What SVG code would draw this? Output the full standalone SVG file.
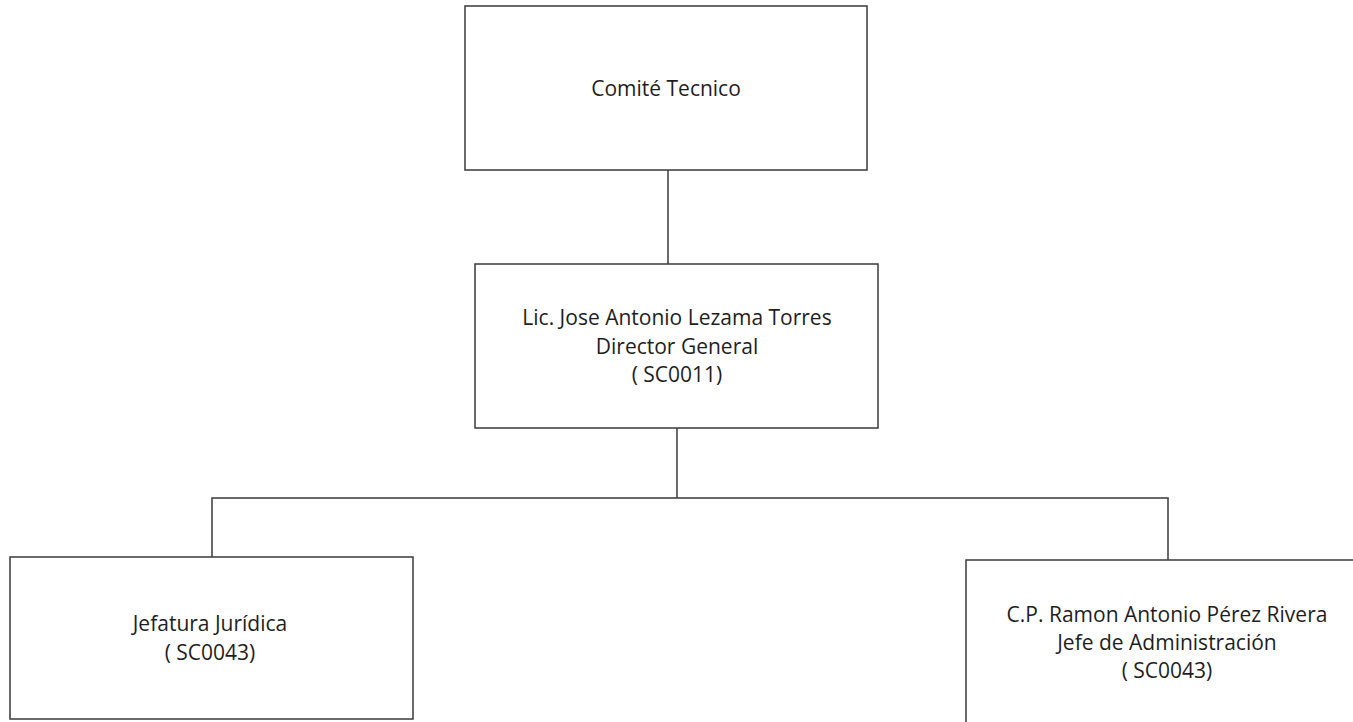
<svg xmlns="http://www.w3.org/2000/svg" width="1353" height="722" viewBox="0 0 1353 722">
<style>
.box{fill:#ffffff;stroke:#3a3a3a;stroke-width:1.5}
.conn{fill:none;stroke:#3a3a3a;stroke-width:1.5}
.t{font-family:"Open Sans","Noto Sans","Liberation Sans",sans-serif;font-size:21px;fill:#1e1e1e;text-anchor:middle}
</style>
<rect width="1353" height="722" fill="#ffffff"/>
<g id="connectors">
<path class="conn" d="M668 170 V264"/>
<path class="conn" d="M677 428 V498"/>
<path class="conn" d="M212 557 V498 H1168 V560"/>
</g>
<g id="comite">
<rect class="box" x="465" y="6" width="402" height="164"/>
<text class="t" x="666" y="96">Comité Tecnico</text>
</g>
<g id="director">
<rect class="box" x="475" y="264" width="403" height="164"/>
<text class="t" x="677" y="325">Lic. Jose Antonio Lezama Torres</text>
<text class="t" x="677" y="354">Director General</text>
<text class="t" x="677" y="382">( SC0011)</text>
</g>
<g id="juridica">
<rect class="box" x="10" y="557" width="403" height="162"/>
<text class="t" x="210" y="631">Jefatura Jurídica</text>
<text class="t" x="210" y="660">( SC0043)</text>
</g>
<g id="administracion">
<rect class="box" x="966" y="560" width="400" height="170"/>
<text class="t" x="1167" y="622">C.P. Ramon Antonio Pérez Rivera</text>
<text class="t" x="1167" y="650">Jefe de Administración</text>
<text class="t" x="1167" y="678">( SC0043)</text>
</g>
</svg>
